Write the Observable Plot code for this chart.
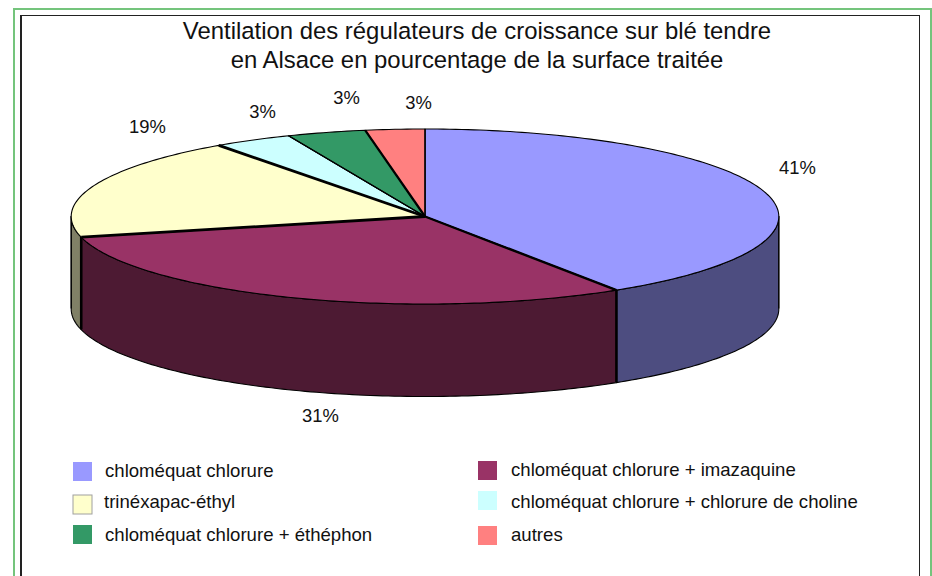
<!DOCTYPE html>
<html lang="fr">
<head>
<meta charset="utf-8">
<script src="https://cdn.jsdelivr.net/npm/d3@7"></script>
<script src="https://cdn.jsdelivr.net/npm/@observablehq/plot@0.6"></script>
<style>
html,body{margin:0;padding:0;background:#fff;overflow:hidden}
#page{position:relative;width:932px;height:576px;font-family:"Liberation Sans",Arial,sans-serif}
#green{position:absolute;left:13px;top:8px;width:915px;height:580px;border:2px solid #74c47c;box-sizing:content-box}
#black{position:absolute;left:20px;top:15px;width:897px;height:580px;border:2px solid #222;border-top-width:1px;border-right-width:1px}
#chart{position:absolute;left:0;top:0}
#chart svg{display:block}
</style>
</head>
<body>
<div id="page"><div id="green"></div><div id="black"></div><div id="chart"></div></div>
<script>
const categories = ["chloméquat chlorure","chloméquat chlorure + imazaquine","trinéxapac-éthyl","chloméquat chlorure + chlorure de choline","chloméquat chlorure + éthéphon","autres"];
const shares = [40.9,30.3,18.9,3.6,3.6,2.7];
const percentLabels = ["41%","31%","19%","3%","3%","3%"];
const topColors = ["#9999FF","#993366","#FFFFCC","#CCFFFF","#339966","#FF8080"];
const sideColors = ["#4D4D80","#4D1A33","#808066","#668080","#1A4D33","#804040"];
const titleLines = "Ventilation des régulateurs de croissance sur blé tendre\nen Alsace en pourcentage de la surface traitée";

// Layout (pixels)
const pie = {cx:424.5, cy:216, rx:353.8, ry:87.5, depth:92.5};
const labelAt = [[797,168],[320,416],[147,127],[262,112],[346,98],[418,103]];
const legendAt = [[73,462,104.5,471],[478,461,510.5,470],[73,495,103.5,501.5],[478,491,510.5,501.5],[73,525,104.5,535],[478,526,510.5,535]];
const radialWidth = [1.2,2.4,2.8,2.8,1.2,2.2];

const pt = (deg, dz=0) => {
  const a = deg*Math.PI/180;
  return {x: pie.cx + pie.rx*Math.sin(a), y: pie.cy - pie.ry*Math.cos(a) + dz};
};
let acc = 0;
const slices = categories.map((name,i)=>{
  const start = acc/100*360; acc += shares[i];
  return {name, i, start, end: acc/100*360};
});
const arc = (s,e,dz=0)=>{
  const n = Math.max(2,Math.ceil(e-s));
  return d3.range(n+1).map(k=>pt(s+(e-s)*k/n,dz));
};
const faces = slices.flatMap(s=>[
  {x:pie.cx,y:pie.cy,name:s.name},
  ...arc(s.start,s.end).map(p=>({...p,name:s.name})),
  {x:pie.cx,y:pie.cy,name:s.name}
]);
const walls = slices.flatMap(s=>{
  const a = Math.max(s.start,90), b = Math.min(s.end,270);
  if (a>=b) return [];
  const up = arc(a,b), down = arc(a,b,pie.depth).reverse();
  return [...up,...down,up[0]].map(p=>({...p,name:s.name,side:sideColors[s.i]}));
});
const radials = slices.map(s=>{
  const p = pt(s.start);
  return {x1:pie.cx,y1:pie.cy,x2:p.x,y2:p.y,w:radialWidth[s.i]};
});
const edgeAngles = [90,slices[1].start,slices[2].start,270];
const edgeWidth = [1.2,2.6,2.6,1.2];
const edges = edgeAngles.map((d,i)=>{
  const p = pt(d);
  return {x:p.x,y1:p.y,y2:p.y+pie.depth,w:edgeWidth[i]};
});
const labels = percentLabels.map((t,i)=>({t,x:labelAt[i][0],y:labelAt[i][1]}));
const legend = categories.map((name,i)=>({name,x:legendAt[i][0],y:legendAt[i][1],tx:legendAt[i][2],ty:legendAt[i][3]}));
const box = 19;

const chart = Plot.plot({
  width:932, height:576,
  margin:0,
  style:{background:"transparent",fontFamily:'"Liberation Sans",Arial,sans-serif'},
  x:{domain:[0,932],range:[0,932],axis:null},
  y:{domain:[0,576],range:[0,576],axis:null},
  color:{domain:categories,range:topColors},
  marks:[
    Plot.line(walls,{x:"x",y:"y",z:"name",fill:d=>d.side,stroke:"#000",strokeWidth:1.1}),
    ...edges.map(e=>Plot.ruleX([e],{x:"x",y1:"y1",y2:"y2",stroke:"#000",strokeWidth:e.w})),
    Plot.line(faces,{x:"x",y:"y",z:"name",fill:"name",stroke:"#000",strokeWidth:1.1}),
    ...radials.map(r=>Plot.link([r],{x1:"x1",y1:"y1",x2:"x2",y2:"y2",stroke:"#000",strokeWidth:r.w})),
    Plot.text([titleLines],{x:()=>476.5,y:()=>43.5,text:d=>d,fontSize:23.9,lineHeight:1.23,fill:"#111",textAnchor:"middle"}),
    Plot.text(labels,{x:"x",y:"y",text:"t",fontSize:18.4,fill:"#111"}),
    Plot.rect(legend,{x1:"x",x2:d=>d.x+box,y1:"y",y2:d=>d.y+box,fill:"name",stroke:d=>d.name==="trinéxapac-éthyl"?"#a0a0a0":"none"}),
    Plot.text(legend,{x:"tx",y:"ty",text:"name",textAnchor:"start",fontSize:18.6,fill:"#111"})
  ]
});
document.getElementById("chart").appendChild(chart);
</script>
</body>
</html>
